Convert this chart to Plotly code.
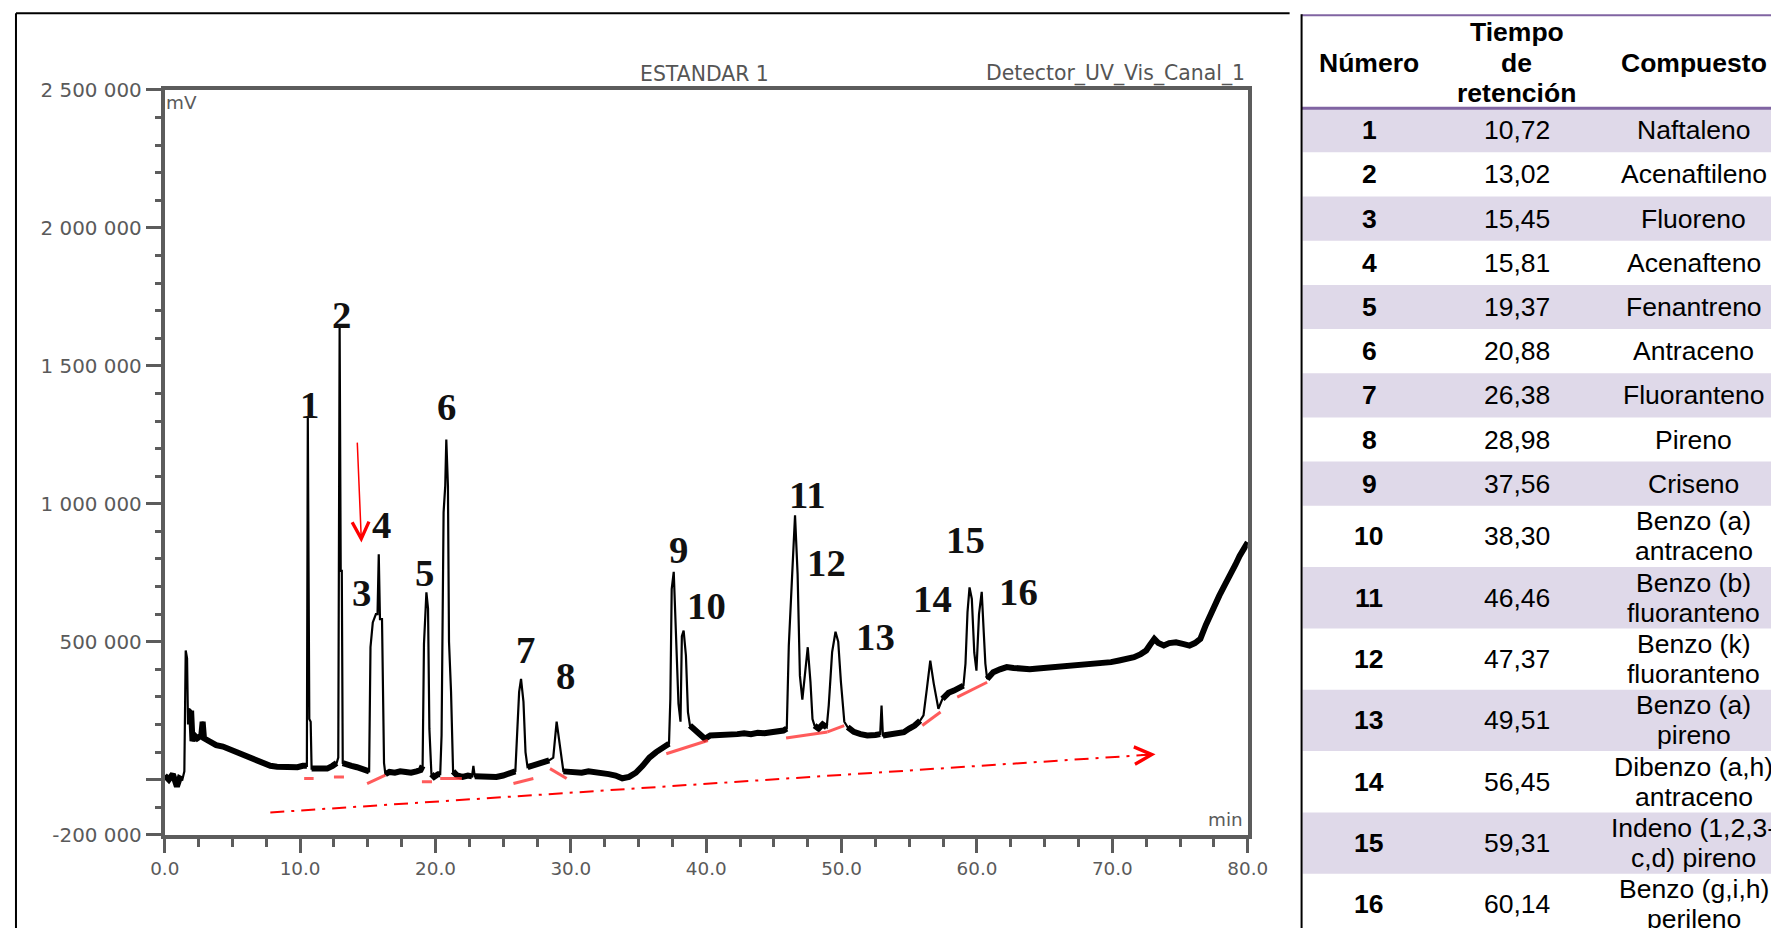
import plotly.graph_objects as go

# Layout is specified in target-picture pixels (1771 x 931) and converted to figure
# pixels with the mapping measured from earlier renders (page is shown at ~0.98 scale,
# html body keeps its default 8px margin).
SX, SY = 0.983, 0.978
BX, BY = 4.0, 3.0
MARGIN = 8
W, H = 1776, 928
FS = 1 / 0.98


def fx(x):
    return (x - BX) / SX - MARGIN


def fy(y):
    return (y - BY) / SY - MARGIN


def px(x):
    return max(fx(x), 1.0) / W


def py(y):
    return 1 - fy(y) / H


# ---------------- chromatogram ----------------
time_min = [
    0.0, 0.3, 0.6, 0.9, 1.1, 1.3, 1.45, 1.55, 1.65, 1.72, 1.8, 1.95, 2.05, 2.2, 2.4, 2.7, 2.8, 2.9, 3.3, 3.8,
    4.3, 4.8, 5.3, 5.8, 6.3, 6.8, 7.3, 7.8, 8.3, 8.8, 9.3, 9.8, 10.2,
    10.5, 10.57, 10.68, 10.78, 10.85, 11.2, 11.6, 12.0, 12.4, 12.7, 12.82, 12.92, 13.0, 13.08, 13.15, 13.4, 13.8, 14.2, 14.6, 15.0,
    15.1, 15.2, 15.37, 15.6, 15.72, 15.81, 15.9, 16.05, 16.2, 16.3, 16.6, 17.0, 17.4, 17.8, 18.2, 18.6, 18.9, 19.05, 19.15, 19.33,
    19.45, 19.55, 19.7, 19.9, 20.2, 20.35, 20.45, 20.6, 20.72, 20.8, 20.92, 21.0, 21.15, 21.3,
    21.6, 22.0, 22.4, 22.7, 22.8, 22.9, 23.5, 24.0, 24.5, 25.0, 25.4, 25.9, 26.0, 26.18, 26.32, 26.5, 26.65, 26.8, 27.2, 27.6,
    28.0, 28.4, 28.7, 28.95, 29.2, 29.45,
    29.8, 30.3, 30.8, 31.3, 31.8, 32.3, 32.8, 33.3, 33.8, 34.3, 34.8, 35.3, 35.8, 36.3, 36.8, 37.1, 37.25, 37.35, 37.45, 37.6,
    37.75, 37.95, 38.1, 38.2, 38.33, 38.5, 38.65, 38.8, 39.4, 39.9, 40.3,
    40.8, 41.3, 41.8, 42.3, 42.8, 43.3, 43.8, 44.3, 44.8, 45.3, 45.7, 45.95, 46.1, 46.35, 46.56, 46.75, 46.92, 47.1, 47.3, 47.5,
    47.7, 47.85, 48.0, 48.3, 48.6, 48.9, 49.05, 49.3, 49.55, 49.75, 49.95, 50.2, 50.45,
    50.9, 51.4, 51.9, 52.5, 52.85, 52.95, 53.05, 53.5, 54.0, 54.6, 55.0, 55.4, 55.8, 56.05, 56.3, 56.55, 56.8, 57.15, 57.45, 57.9,
    58.3, 58.7, 59.0, 59.15, 59.3, 59.45, 59.62, 59.8, 59.96, 60.15, 60.35, 60.5, 60.62, 60.75,
    61.2, 61.7, 62.2, 62.7, 63.3, 63.9, 64.5, 65.1, 65.7, 66.3, 66.9, 67.5, 68.1, 68.7, 69.3, 69.9, 70.5, 71.1, 71.6, 72.1,
    72.5, 72.8, 73.1, 73.4, 73.8, 74.2, 74.7, 75.2, 75.7, 76.1, 76.5, 76.9, 77.2, 77.6, 77.9, 78.3, 78.7, 79.1, 79.4, 79.7, 80.0,
]
signal_mv = [
    15000, 0, 20000, -25000, 5000, 0, 30000, 468000, 440000, 200000, 257000, 250000, 140000, 160000, 150000, 160000, 210000, 150000, 140000, 125000,
    120000, 110000, 100000, 90000, 80000, 65000, 58000, 50000, 47000, 45000, 47000, 45000, 50000,
    50000, 1312000, 220000, 210000, 40000, 40000, 45000, 40000, 50000, 60000, 80000, 1643000, 757000, 757000, 60000, 55000, 50000, 45000, 40000, 30000,
    30000, 480000, 570000, 600000, 600000, 817000, 582000, 582000, 60000, 20000, 28000, 25000, 30000, 28000, 25000, 30000, 35000, 50000, 492000, 679000,
    620000, 184000, 20000, 10000, 20000, 20000, 160000, 969000, 1064000, 1233000, 1064000, 500000, 318000, 30000,
    15000, 10000, 15000, 12000, 50000, 12000, 10000, 12000, 10000, 15000, 20000, 30000, 137000, 318000, 365000, 282000, 100000, 45000, 50000, 55000,
    60000, 70000, 80000, 210000, 110000, 30000,
    28000, 30000, 25000, 30000, 28000, 25000, 20000, 15000, 5000, 10000, 25000, 50000, 80000, 100000, 115000, 120000, 130000, 293000, 691000, 753000,
    558000, 275000, 210000, 520000, 540000, 450000, 245000, 196000, 173000, 148000, 160000,
    160000, 165000, 160000, 165000, 168000, 165000, 170000, 168000, 172000, 175000, 178000, 185000, 486000, 745000, 958000, 745000, 377000, 290000, 400000, 480000,
    354000, 220000, 196000, 185000, 200000, 190000, 269000, 462000, 536000, 500000, 354000, 210000, 190000,
    173000, 165000, 160000, 162000, 165000, 269000, 160000, 165000, 168000, 172000, 185000, 196000, 214000, 233000, 330000, 431000, 350000, 257000, 293000, 315000,
    323000, 335000, 341000, 420000, 607000, 697000, 655000, 460000, 395000, 600000, 681000, 534000, 420000, 365000,
    389000, 400000, 408000, 405000, 402000, 400000, 403000, 405000, 408000, 410000, 412000, 413000, 416000, 420000, 423000, 426000, 432000, 438000, 444000, 455000,
    468000, 490000, 510000, 495000, 486000, 495000, 498000, 492000, 486000, 495000, 510000, 560000, 594000, 635000, 667000, 705000, 739000, 780000, 811000, 835000, 860000,
]
assert len(time_min) == len(signal_mv)

# peak regions (min) drawn only with the thin line
peak_windows = [(1.3, 1.9), (10.52, 10.82), (12.75, 13.12), (15.15, 16.25), (19.1, 19.6),
                (20.4, 21.2), (22.75, 22.85), (25.95, 26.7), (28.5, 29.3), (37.3, 38.75),
                (46.0, 47.9), (49.0, 50.3), (52.9, 53.0), (56.0, 57.3), (59.1, 60.7)]

# integration baselines
integ_t0 = [10.3, 12.5, 14.95, 19.0, 20.35, 25.76, 28.46, 37.05, 45.9, 48.96, 55.96, 58.54]
integ_v0 = [4000, 10000, -14000, -8000, 4000, -14000, 40000, 94000, 151000, 173000, 196000, 299000]
integ_t1 = [11.0, 13.24, 16.3, 19.74, 21.95, 27.23, 29.69, 40.12, 48.96, 50.19, 57.31, 60.75]
integ_v1 = [4000, 10000, 16000, -8000, 4000, 4000, 4000, 142000, 173000, 196000, 245000, 353000]

# peak labels
peak_ids = ["1", "2", "3", "4", "5", "6", "7", "8", "9", "10", "11", "12", "13", "14", "15", "16"]
label_t = [10.66, 13.04, 14.51, 15.99, 19.18, 20.85, 26.62, 29.61, 37.92, 40.0, 47.49, 48.91, 52.47, 56.74, 59.15, 63.08]
label_v = [1360000, 1685000, 679000, 926000, 751000, 1352000, 471000, 377000, 835000, 630000, 1034000, 787000, 520000, 655000, 872000, 681000]

# axes ticks
x_tick_vals = [0, 10, 20, 30, 40, 50, 60, 70, 80]
x_tick_text = ["0.0", "10.0", "20.0", "30.0", "40.0", "50.0", "60.0", "70.0", "80.0"]
y_tick_vals = [-200000, 0, 500000, 1000000, 1500000, 2000000, 2500000]
y_tick_text = ["-200 000", "", "500 000", "1 000 000", "1 500 000", "2 000 000", "2 500 000"]

# ---------------- table ----------------
numero = ["1", "2", "3", "4", "5", "6", "7", "8", "9", "10", "11", "12", "13", "14", "15", "16"]
tiempo = ["10,72", "13,02", "15,45", "15,81", "19,37", "20,88", "26,38", "28,98", "37,56",
          "38,30", "46,46", "47,37", "49,51", "56,45", "59,31", "60,14"]
compuesto = ["Naftaleno", "Acenaftileno", "Fluoreno", "Acenafteno", "Fenantreno", "Antraceno",
             "Fluoranteno", "Pireno", "Criseno", "Benzo (a)\nantraceno", "Benzo (b)\nfluoranteno",
             "Benzo (k)\nfluoranteno", "Benzo (a)\npireno", "Dibenzo (a,h)\nantraceno",
             "Indeno (1,2,3-\nc,d) pireno", "Benzo (g,i,h)\nperileno"]
headers = ["Número", "Tiempo\nde\nretención", "Compuesto"]

AX = "#5c5c5c"
TXT = "#5a5a5a"
PURPLE = "#8064A2"
SHADE = "#DFD9E9"

fig = go.Figure()

# thick noisy baseline
base_v = []
for t, v in zip(time_min, signal_mv):
    inside = any(a < t < b for a, b in peak_windows)
    base_v.append(None if inside else v)
fig.add_trace(go.Scatter(x=time_min, y=base_v, mode="lines", connectgaps=False,
                         line=dict(color="black", width=6), hoverinfo="skip"))
# full trace
fig.add_trace(go.Scatter(x=time_min, y=signal_mv, mode="lines",
                         line=dict(color="black", width=2.2), hoverinfo="skip"))
# integration baselines
rx, ry = [], []
for a, b, c, d in zip(integ_t0, integ_v0, integ_t1, integ_v1):
    rx += [a, c, None]
    ry += [b, d, None]
fig.add_trace(go.Scatter(x=rx, y=ry, mode="lines",
                         line=dict(color="rgba(255,50,50,0.8)", width=3), hoverinfo="skip"))

shapes = []
annotations = []

# dash-dot red trend arrow
trend_t = [7.8, 73.19]
trend_v = [-119000, 92000]
shapes.append(dict(type="line", xref="x", yref="y", x0=trend_t[0], y0=trend_v[0],
                   x1=trend_t[1], y1=trend_v[1],
                   line=dict(color="red", width=2, dash="14px,7px,3px,7px")))
annotations.append(dict(x=trend_t[1], y=trend_v[1], xref="x", yref="y", text="",
                        showarrow=True, ax=-16, ay=1.05, arrowhead=5, arrowsize=1.9,
                        arrowwidth=1.8, arrowcolor="red"))
# red vertical arrow near peak 3
annotations.append(dict(x=14.53, y=860000, xref="x", yref="y", ax=14.22, ay=1227000,
                        axref="x", ayref="y", text="", showarrow=True, arrowhead=5,
                        arrowsize=2.2, arrowwidth=1.5, arrowcolor="red"))

# peak labels
for lab, t, v in zip(peak_ids, label_t, label_v):
    annotations.append(dict(x=t, y=v, xref="x", yref="y", text=lab, showarrow=False,
                            xanchor="center", yanchor="middle",
                            font=dict(family="Liberation Serif", size=38 * FS, color="#111",
                                      weight="bold")))

# chart texts
annotations.append(dict(x=px(703), y=py(74), xref="paper", yref="paper", text="ESTANDAR 1",
                        showarrow=False, xanchor="center", yanchor="middle",
                        font=dict(family="DejaVu Sans", size=20 * FS, color="#555")))
annotations.append(dict(x=px(1247), y=py(74), xref="paper", yref="paper",
                        text="Detector_UV_Vis_Canal_1", showarrow=False, xanchor="right",
                        yanchor="middle", font=dict(family="DejaVu Sans", size=20 * FS, color="#555")))
annotations.append(dict(x=px(161), y=py(103), xref="paper", yref="paper", text="mV",
                        showarrow=False, xanchor="left", yanchor="middle",
                        font=dict(family="DejaVu Sans", size=18 * FS, color=TXT)))
annotations.append(dict(x=px(1245), y=py(822), xref="paper", yref="paper", text="min",
                        showarrow=False, xanchor="right", yanchor="middle",
                        font=dict(family="DejaVu Sans", size=18 * FS, color=TXT)))

# outer frame of the chart picture
shapes.append(dict(type="line", xref="paper", yref="paper", x0=px(10), y0=py(13), x1=px(1290),
                   y1=py(13), line=dict(color="black", width=2)))
shapes.append(dict(type="line", xref="paper", yref="paper", x0=px(10), y0=py(13), x1=px(10),
                   y1=-0.02, line=dict(color="black", width=2)))

# ---------------- table drawing ----------------
T_LEFT = 1302
HEAD_TOP, HEAD_BOT = 15, 108.3
ROW_SINGLE, ROW_DOUBLE = 44.3, 61.5
col_x = [1370, 1518, 1695]

y_cur = HEAD_BOT
row_bounds = []
for comp in compuesto:
    h = ROW_DOUBLE if "\n" in comp else ROW_SINGLE
    row_bounds.append((y_cur, y_cur + h))
    y_cur += h

for i, (y0, y1) in enumerate(row_bounds):
    if i % 2 == 0:
        shapes.append(dict(type="rect", xref="paper", yref="paper", x0=px(T_LEFT + 1), x1=1.02,
                           y0=py(y1), y1=py(y0), fillcolor=SHADE, line=dict(width=0)))

shapes.append(dict(type="line", xref="paper", yref="paper", x0=px(T_LEFT), y0=py(HEAD_TOP),
                   x1=1.02, y1=py(HEAD_TOP), line=dict(color=PURPLE, width=2)))
shapes.append(dict(type="line", xref="paper", yref="paper", x0=px(T_LEFT), y0=py(HEAD_BOT),
                   x1=1.02, y1=py(HEAD_BOT), line=dict(color=PURPLE, width=3)))
shapes.append(dict(type="line", xref="paper", yref="paper", x0=px(T_LEFT), y0=py(14),
                   x1=px(T_LEFT), y1=-0.02, line=dict(color="black", width=2)))


def add_cell(text, cx, cy, size, bold, spacing):
    lines = text.split("\n")
    n = len(lines)
    for k, ln in enumerate(lines):
        yy = cy + (k - (n - 1) / 2) * spacing
        annotations.append(dict(x=px(cx), y=py(yy), xref="paper", yref="paper", text=ln,
                                showarrow=False, xanchor="center", yanchor="middle",
                                font=dict(family="Liberation Sans", size=size * FS, color="black",
                                          weight="bold" if bold else "normal")))


head_cy = (HEAD_TOP + HEAD_BOT) / 2 + 1
for hdr, cx in zip(headers, col_x):
    add_cell(hdr, cx, head_cy, 26, True, 30.5)

for (y0, y1), n, t, c in zip(row_bounds, numero, tiempo, compuesto):
    cy = (y0 + y1) / 2
    add_cell(n, col_x[0], cy, 26, True, 30)
    add_cell(t, col_x[1], cy, 26, False, 30)
    add_cell(c, col_x[2], cy, 26, False, 30)

fig.update_layout(
    width=W, height=H, margin=dict(l=0, r=0, t=0, b=0),
    paper_bgcolor="white", plot_bgcolor="white", showlegend=False,
    font=dict(family="DejaVu Sans"),
    shapes=shapes, annotations=annotations,
    xaxis=dict(domain=[px(162), px(1248)], range=[0, 80], tickmode="array",
               tickvals=x_tick_vals, ticktext=x_tick_text, ticks="outside", ticklen=14,
               tickwidth=3, tickcolor=AX, showline=True, linecolor=AX, linewidth=4,
               mirror=True, showgrid=False, zeroline=False,
               tickfont=dict(family="DejaVu Sans", size=18 * FS, color=TXT),
               minor=dict(tickmode="linear", tick0=0, dtick=2.5, ticks="outside", ticklen=8,
                          tickwidth=3, tickcolor=AX, showgrid=False)),
    yaxis=dict(domain=[py(837), py(90)], range=[-200000, 2500000], tickmode="array",
               tickvals=y_tick_vals, ticktext=y_tick_text, ticks="outside", ticklen=15,
               tickwidth=3, tickcolor=AX, showline=True, linecolor=AX, linewidth=4,
               mirror=True, showgrid=False, zeroline=False,
               tickfont=dict(family="DejaVu Sans", size=19.5 * FS, color=TXT),
               minor=dict(tickmode="linear", tick0=0, dtick=100000, ticks="outside", ticklen=6,
                          tickwidth=3, tickcolor=AX, showgrid=False)),
)

fig.write_html("out.html",
               post_script="document.documentElement.style.overflow='hidden';")
